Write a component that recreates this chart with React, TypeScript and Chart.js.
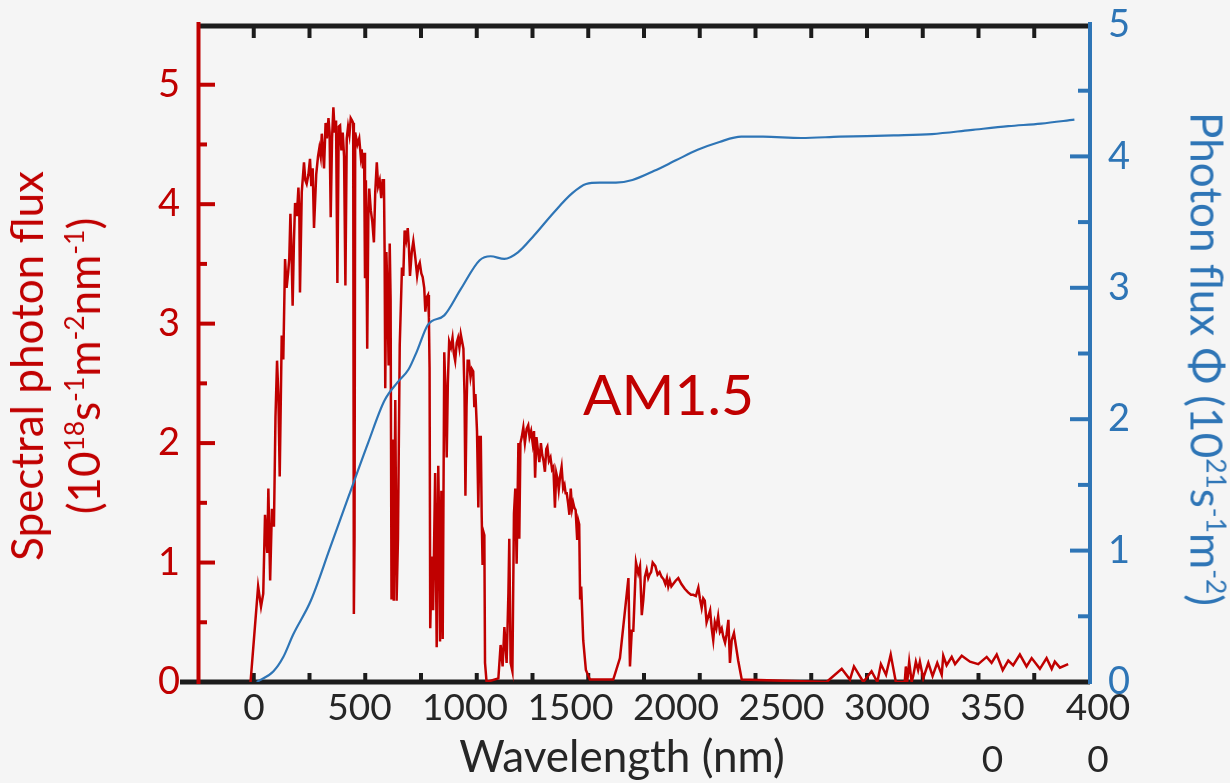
import React, { useEffect, useRef } from 'react';
import { Chart, registerables } from 'chart.js';

Chart.register(...registerables);

// ---------- data ----------
// AM1.5 spectral photon flux (10^18 s^-1 m^-2 nm^-1) vs wavelength (nm)
const SPECTRUM_WL = [
  300, 334, 347, 357, 365, 375, 380, 388, 396, 405, 412, 419, 425, 431, 440, 447, 455, 462, 469, 474,
  479, 484, 489, 495, 500, 508, 515, 519, 522, 530, 540, 546, 552, 560, 567, 573, 579, 585, 595, 603,
  609, 615, 620, 625, 630, 637, 643, 650, 655, 660, 666, 672, 678, 684, 690, 696, 702, 708, 714, 720,
  726, 732, 738, 744, 750, 756, 761, 764, 767, 770, 780, 788, 795, 799, 805, 810, 814, 818, 824, 829,
  833, 840, 847, 854, 860, 867, 873, 880, 887, 893, 899, 902, 905, 910, 915, 920, 925, 929, 933, 938,
  943, 950, 956, 962, 970, 980, 986, 992, 999, 1006, 1011, 1016, 1024, 1031, 1040, 1048, 1054, 1060, 1067, 1073,
  1080, 1085, 1091, 1097, 1101, 1104, 1107, 1114, 1120, 1129, 1136, 1143, 1148, 1151, 1157, 1163, 1170, 1176, 1181, 1186,
  1192, 1200, 1207, 1213, 1219, 1226, 1232, 1238, 1244, 1250, 1256, 1261, 1265, 1270, 1275, 1281, 1288, 1294, 1300, 1305,
  1310, 1317, 1323, 1328, 1334, 1338, 1342, 1347, 1350, 1353, 1360, 1413, 1423, 1432, 1440, 1450, 1458, 1462, 1468, 1476,
  1483, 1489, 1495, 1503, 1507, 1512, 1518, 1525, 1532, 1540, 1547, 1553, 1560, 1567, 1573, 1578, 1584, 1590, 1597, 1604,
  1610, 1616, 1622, 1628, 1633, 1640, 1647, 1654, 1660, 1667, 1673, 1679, 1684, 1690, 1697, 1704, 1710, 1715, 1720, 1726,
  1732, 1738, 1744, 1749, 1754, 1760, 1767, 1772, 1776, 1780, 1785, 1794, 1806, 1824, 1929, 1959, 1997, 2004, 2012, 2019,
  2031, 2041, 2049, 2057, 2064, 2071, 2079, 2086, 2092, 2099, 2106, 2118, 2128, 2137, 2146, 2155, 2163, 2170, 2176, 2183,
  2190, 2198, 2210, 2221, 2235, 2250, 2265, 2278, 2288, 2300, 2311, 2318, 2326, 2333, 2340, 2348, 2356, 2364, 2371, 2378,
  2385, 2392, 2400, 2408, 2416, 2423, 2431, 2438, 2446, 2453, 2461, 2471, 2480, 2490, 2506, 2887, 2955, 2992, 3010, 3052,
  3089, 3115, 3131, 3154, 3175, 3198, 3238, 3243, 3249, 3258, 3269, 3276, 3288, 3298, 3306, 3321, 3344, 3363, 3384, 3404,
  3411, 3426, 3449, 3464, 3494, 3531, 3568, 3606, 3628, 3651, 3678, 3703, 3725, 3755, 3785, 3808, 3845, 3875, 3898, 3912,
  3935, 3972,
];
const SPECTRUM_FLUX = [
  0, 0.80, 0.63, 0.74, 1.40, 1.08, 1.62, 0.85, 1.45, 1.30, 2.22, 2.69, 2.40, 1.72, 2.90, 2.70, 3.54, 3.30, 3.43, 3.55,
  3.92, 3.60, 3.15, 3.70, 4.01, 3.90, 4.14, 3.95, 3.26, 4.10, 4.35, 4.20, 4.17, 4.25, 4.38, 4.15, 4.30, 3.80, 4.25, 4.40,
  4.47, 4.40, 4.59, 4.45, 4.30, 4.68, 4.55, 4.72, 4.60, 3.89, 4.55, 4.81, 4.60, 4.70, 3.34, 4.65, 4.66, 4.45, 4.60, 4.40,
  3.32, 4.55, 4.65, 4.58, 4.72, 4.70, 4.68, 0.57, 1.20, 4.60, 4.50, 4.55, 4.40, 4.46, 4.30, 4.43, 3.38, 4.20, 2.79, 3.90,
  4.13, 3.95, 3.85, 3.68, 4.10, 4.35, 4.15, 4.20, 4.05, 4.20, 4.20, 3.63, 2.46, 3.60, 3.25, 2.65, 3.67, 3.20, 0.69, 2.03,
  0.68, 2.36, 0.68, 1.20, 2.82, 3.47, 3.40, 3.78, 3.70, 3.80, 3.65, 3.40, 3.60, 3.69, 3.55, 3.40, 3.48, 3.51, 3.42, 3.39,
  3.30, 3.10, 3.22, 3.24, 3.05, 2.63, 0.45, 1.05, 0.60, 1.75, 0.29, 1.81, 1.20, 0.34, 1.60, 0.36, 2.76, 2.40, 1.88, 2.50,
  2.85, 2.80, 2.88, 2.75, 2.69, 2.84, 2.88, 2.80, 2.91, 2.85, 2.79, 2.40, 1.56, 2.30, 2.69, 2.69, 2.55, 2.62, 2.60, 2.30,
  2.41, 2.10, 1.46, 2.05, 2.05, 1.40, 0.98, 1.25, 1.23, 0.16, 0, 0.03, 0.31, 0.13, 0.46, 0.16, 0.74, 1.20, 0.16, 0.09,
  1.41, 1.62, 0.99, 2.00, 1.20, 2.00, 2.05, 2.13, 2.00, 2.12, 2.15, 2.05, 2.10, 2.00, 2.10, 1.71, 2.05, 1.95, 1.84, 2.00,
  1.90, 1.85, 1.76, 1.95, 1.97, 1.85, 1.88, 1.78, 1.80, 1.46, 1.75, 1.70, 1.61, 1.72, 1.80, 1.62, 1.65, 1.58, 1.58, 1.50,
  1.40, 1.62, 1.45, 1.50, 1.46, 1.44, 1.19, 1.35, 1.32, 0.69, 0.80, 0.35, 0.10, 0.02, 0.02, 0.20, 0.87, 0.13, 0.43, 0.43,
  1.00, 0.91, 0.97, 0.56, 0.69, 0.88, 0.94, 0.87, 0.90, 0.92, 1.00, 0.97, 0.90, 0.92, 0.88, 0.86, 0.82, 0.87, 0.80, 0.85,
  0.80, 0.82, 0.85, 0.87, 0.82, 0.78, 0.75, 0.73, 0.73, 0.72, 0.79, 0.70, 0.62, 0.70, 0.68, 0.50, 0.55, 0.60, 0.45, 0.35,
  0.50, 0.45, 0.55, 0.42, 0.45, 0.38, 0.33, 0.40, 0.52, 0.16, 0.35, 0.41, 0.30, 0.18, 0.02, 0, 0.11, 0.02, 0.13, 0,
  0.09, 0, 0.15, 0.06, 0.23, 0, 0, 0.13, 0, 0.17, 0, 0.05, 0.17, 0.10, 0.17, 0.03, 0.16, 0.05, 0.16, 0.06,
  0.22, 0.14, 0.21, 0.15, 0.22, 0.17, 0.15, 0.21, 0.16, 0.23, 0.10, 0.18, 0.14, 0.23, 0.13, 0.20, 0.11, 0.20, 0.11, 0.17,
  0.12, 0.15,
];

// Cumulative photon flux Φ (10^21 s^-1 m^-2) vs wavelength (nm)
const CUMULATIVE_WL = [
  328, 402, 447, 491, 571, 657, 742, 828, 901, 960, 1010, 1048, 1097, 1170, 1244, 1329, 1378, 1440, 1501, 1574,
  1660, 1745, 1807, 1868, 1941, 2015, 2113, 2210, 2308, 2406, 2504, 2602, 2773, 2945, 3189, 3360, 3532, 3703, 3850, 4000,
];
const CUMULATIVE_FLUX = [
  0, 0.08, 0.19, 0.36, 0.62, 1.02, 1.42, 1.82, 2.14, 2.28, 2.38, 2.52, 2.72, 2.79, 2.99, 3.21, 3.24, 3.22, 3.27, 3.40,
  3.57, 3.72, 3.79, 3.80, 3.80, 3.82, 3.89, 3.97, 4.05, 4.11, 4.15, 4.15, 4.14, 4.15, 4.16, 4.17, 4.20, 4.23, 4.25, 4.28,
];

// bottom tick labels (as printed, including the wrapped ones)
const X_TICK_VALUES = [0, 500, 1000, 1500, 2000, 2500, 3000, 3500, 4000];
const X_TICK_LABELS = [['0'], ['500'], ['1000'], ['1500'], ['2000'], ['2500'], ['3000'], ['350', '0'], ['400', '0']];

const ANNOTATION_TEXT = 'AM1.5';
const X_TITLE = 'Wavelength (nm)';
const LEFT_TITLE = 'Spectral photon flux';
const RIGHT_TITLE = 'Photon flux Φ (10';

// ---------- layout / style ----------
const W = 1230;
const H = 783;
const BG = '#f5f5f5';
const RED = '#C00000';
const BLUE = '#2E75B6';
const DARK = '#1c1c1c';
const TEXT = '#262626';
const FONT = 'Lato, "Open Sans", sans-serif';

const X_MIN = 64;
const X_MAX = 4070;
const XT_MIN = 0;
const XT_MAX = 4005;
const XL_MIN = -265;
const XL_MAX = 3962;
const ANNOT_X = 1793;
const ANNOT_Y = 2.235;

const isInt = (v: number) => Math.abs(v - Math.round(v)) < 1e-6;

const decoPlugin = {
  id: 'deco',
  beforeDatasetsDraw(chart: any) {
    const { ctx, chartArea: a, scales } = chart;
    const sx = scales.x, st = scales.xt, sy = scales.y, sy2 = scales.y2;
    ctx.save();
    ctx.lineCap = 'butt';
    const seg = (x1: number, y1: number, x2: number, y2: number) => {
      ctx.beginPath(); ctx.moveTo(x1, y1); ctx.lineTo(x2, y2); ctx.stroke();
    };
    // black frame lines
    ctx.strokeStyle = DARK;
    ctx.lineWidth = 5;
    seg(a.left - 18, a.bottom, a.right, a.bottom);
    seg(a.left, a.top + 1, a.right, a.top + 1);
    // inward ticks, bottom and top
    ctx.lineWidth = 4;
    for (const t of sx.ticks) {
      const px = sx.getPixelForValue(t.value);
      if (px < a.left + 4 || px > a.right - 4) continue;
      const L = t.value % 500 === 0 ? 15 : 9;
      seg(px, a.bottom, px, a.bottom - L);
    }
    for (const t of st.ticks) {
      const px = st.getPixelForValue(t.value);
      if (px < a.left + 4 || px > a.right - 4) continue;
      const L = t.value % 500 === 0 ? 19 : 12;
      seg(px, a.top + 1, px, a.top + 1 + L);
    }
    // left axis ticks (red)
    ctx.strokeStyle = RED;
    for (const t of sy.ticks) {
      const py = sy.getPixelForValue(t.value);
      if (py < a.top + 4 || py > a.bottom - 4) continue;
      const L = isInt(t.value) ? 17 : 9;
      seg(a.left, py, a.left + L, py);
    }
    // right axis ticks (blue)
    ctx.strokeStyle = BLUE;
    for (const t of sy2.ticks) {
      const py = sy2.getPixelForValue(t.value);
      if (py < a.top + 4 || py > a.bottom - 4) continue;
      const L = isInt(t.value) ? 20 : 12;
      seg(a.right, py, a.right - L, py);
    }
    // coloured vertical axes
    ctx.strokeStyle = RED;
    seg(a.left + 0.5, a.top - 3, a.left + 0.5, a.bottom + 2);
    ctx.strokeStyle = BLUE;
    seg(a.right, a.top - 3, a.right, a.bottom + 2);
    ctx.restore();
  },
  afterDatasetsDraw(chart: any) {
    const { ctx, scales } = chart;
    ctx.save();
    ctx.font = `57px ${FONT}`;
    ctx.fillStyle = RED;
    ctx.textAlign = 'left';
    ctx.textBaseline = 'alphabetic';
    ctx.fillText(ANNOTATION_TEXT, scales.x.getPixelForValue(ANNOT_X), scales.y.getPixelForValue(ANNOT_Y));
    ctx.restore();
  },
};

const Sup = ({ children }: { children: any }) => (
  <span style={{ fontSize: '0.6em', verticalAlign: '0.6em', lineHeight: 0 }}>{children}</span>
);

export default function App() {
  const ref = useRef<HTMLCanvasElement | null>(null);

  useEffect(() => {
    document.body.style.margin = '0';
    document.body.style.background = BG;
    const canvas = ref.current;
    if (!canvas) return;
    const chart = new Chart(canvas, {
      type: 'line',
      data: {
        datasets: [
          {
            label: 'Photon flux Φ',
            data: CUMULATIVE_WL.map((x, i) => ({ x, y: CUMULATIVE_FLUX[i] })),
            xAxisID: 'x',
            yAxisID: 'y2',
            borderColor: BLUE,
            borderWidth: 2.2,
            pointRadius: 0,
            cubicInterpolationMode: 'monotone',
            fill: false,
            order: 0,
          },
          {
            label: 'Spectral photon flux',
            data: SPECTRUM_WL.map((x, i) => ({ x, y: SPECTRUM_FLUX[i] })),
            xAxisID: 'x',
            yAxisID: 'y',
            borderColor: RED,
            borderWidth: 2.5,
            pointRadius: 0,
            tension: 0,
            fill: false,
            order: 1,
          },
        ],
      },
      options: {
        responsive: false,
        animation: false,
        events: [],
        layout: { padding: 0 },
        plugins: {
          legend: { display: false },
          tooltip: { enabled: false },
          title: { display: false },
        },
        scales: {
          x: {
            type: 'linear',
            position: 'bottom',
            min: X_MIN,
            max: X_MAX,
            grid: { display: false, drawTicks: false },
            border: { display: false },
            ticks: { display: false, stepSize: 250, includeBounds: false },
            afterFit: (s: any) => { s.height = 0; },
          },
          xl: {
            type: 'linear',
            position: 'bottom',
            min: XL_MIN,
            max: XL_MAX,
            grid: { display: false, drawTicks: false },
            border: { display: false },
            afterBuildTicks: (s: any) => { s.ticks = X_TICK_VALUES.map((v) => ({ value: v })); },
            ticks: {
              autoSkip: false,
              maxRotation: 0,
              minRotation: 0,
              padding: 0,
              color: TEXT,
              font: { family: FONT, size: 37, lineHeight: 1.4 },
              callback: (v: any) => {
                const i = X_TICK_VALUES.indexOf(Number(v));
                return i >= 0 ? X_TICK_LABELS[i] : '';
              },
            },
            afterFit: (s: any) => { s.height = H - 682; },
          },
          xt: {
            type: 'linear',
            position: 'top',
            min: XT_MIN,
            max: XT_MAX,
            grid: { display: false, drawTicks: false },
            border: { display: false },
            ticks: { display: false, stepSize: 250, includeBounds: false },
            afterFit: (s: any) => { s.height = 25; },
          },
          y: {
            type: 'linear',
            position: 'left',
            min: 0,
            max: 5.5,
            grid: { display: false, drawTicks: false },
            border: { display: false },
            ticks: {
              stepSize: 0.5,
              includeBounds: false,
              padding: 18,
              color: RED,
              font: { family: FONT, size: 38, lineHeight: 0.1 },
              callback: (v: any) => (isInt(Number(v)) ? String(Math.round(Number(v))) : ''),
            },
            afterFit: (s: any) => { s.width = 198; },
          },
          y2: {
            type: 'linear',
            position: 'right',
            min: 0,
            max: 5,
            grid: { display: false, drawTicks: false },
            border: { display: false },
            ticks: {
              stepSize: 0.5,
              includeBounds: false,
              padding: 18,
              color: BLUE,
              font: { family: FONT, size: 38, lineHeight: 0.1 },
              callback: (v: any) => (isInt(Number(v)) ? String(Math.round(Number(v))) : ''),
            },
            afterFit: (s: any) => { s.width = W - 1090; },
          },
        },
      } as any,
      plugins: [decoPlugin],
    });
    return () => chart.destroy();
  }, []);

  const titleBase: any = {
    position: 'absolute',
    fontFamily: FONT,
    fontSize: 44,
    whiteSpace: 'nowrap',
    textAlign: 'center',
  };

  return (
    <div style={{ position: 'absolute', left: 0, top: 0, width: W, height: H, background: BG, overflow: 'hidden' }}>
      <canvas ref={ref} width={W} height={H} style={{ position: 'absolute', left: 0, top: 0, width: W, height: H }} />
      <div
        style={{
          ...titleBase,
          left: 55,
          top: 366,
          color: RED,
          lineHeight: '57px',
          transform: 'translate(-50%, -50%) rotate(-90deg)',
        }}
      >
        <div>{LEFT_TITLE}</div>
        <div>
          (10<Sup>18</Sup>s<Sup>-1</Sup>m<Sup>-2</Sup>nm<Sup>-1</Sup>)
        </div>
      </div>
      <div
        style={{
          ...titleBase,
          left: 1207,
          top: 359,
          color: BLUE,
          lineHeight: '57px',
          transform: 'translate(-50%, -50%) rotate(90deg)',
        }}
      >
        {RIGHT_TITLE}
        <Sup>21</Sup>s<Sup>-1</Sup>m<Sup>-2</Sup>)
      </div>
      <div
        style={{
          ...titleBase,
          left: 622,
          top: 755,
          color: TEXT,
          lineHeight: '44px',
          transform: 'translate(-50%, -50%)',
        }}
      >
        {X_TITLE}
      </div>
    </div>
  );
}
